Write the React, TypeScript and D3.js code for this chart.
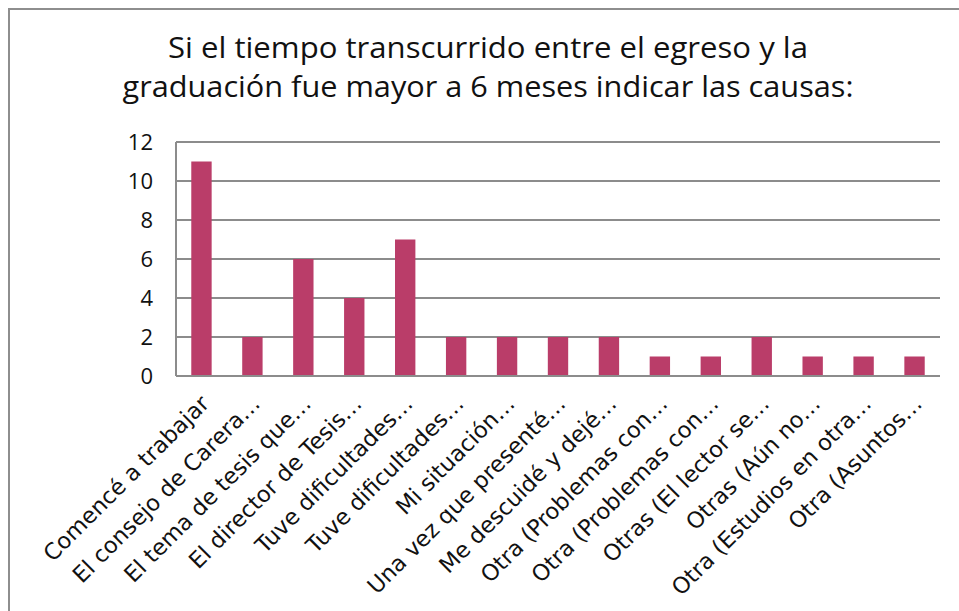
import React from "react";
import * as d3 from "d3";

const titleLines = [
  "Si el tiempo transcurrido entre el egreso y la",
  "graduación fue mayor a 6 meses indicar las causas:",
];
const categories = [
  "Comencé a trabajar",
  "El consejo de Carera…",
  "El tema de tesis que…",
  "El director de Tesis…",
  "Tuve dificultades…",
  "Tuve dificultades… ",
  "Mi situación…",
  "Una vez que presenté…",
  "Me descuidé y dejé…",
  "Otra (Problemas con…",
  "Otra (Problemas con… ",
  "Otras (El lector se…",
  "Otras (Aún no…",
  "Otra (Estudios en otra…",
  "Otra (Asuntos…",
];
const values = [11, 2, 6, 4, 7, 2, 2, 2, 2, 1, 1, 2, 1, 1, 1];
const yTicks = [0, 2, 4, 6, 8, 10, 12];

const W = 959;
const H = 611;
const plot = { left: 176, right: 940, top: 142, bottom: 376 };
const FONT = "'Open Sans', 'DejaVu Sans', sans-serif";
const LABEL_FONT = "'DejaVu Sans', sans-serif";

export default function App() {
  const x = d3
    .scaleBand<string>()
    .domain(categories)
    .range([plot.left, plot.right])
    .paddingInner(0.6)
    .paddingOuter(0.3);
  const y = d3.scaleLinear().domain([0, 12]).range([plot.bottom, plot.top]);

  return (
    <svg
      width={W}
      height={H}
      style={{ position: "fixed", left: 0, top: 0, background: "#fff" }}
    >
      <rect x={0} y={0} width={W} height={H} fill="#fff" />
      <rect
        x={9}
        y={9}
        width={W + 20}
        height={H + 20}
        fill="#fff"
        stroke="#8e8e8e"
        strokeWidth={2}
      />
      {titleLines.map((t, i) => (
        <text
          key={i}
          x={488}
          y={58 + i * 39}
          textAnchor="middle"
          fontFamily={FONT}
          fontSize={30}
          fill="#111"
          textLength={i === 0 ? 640 : 731}
          lengthAdjust="spacingAndGlyphs"
        >
          {t}
        </text>
      ))}
      {yTicks.map((t) => (
        <g key={t}>
          <line
            x1={plot.left}
            x2={plot.right}
            y1={y(t)}
            y2={y(t)}
            stroke="#8c8c8c"
            strokeWidth={2}
          />
          <text
            x={153}
            y={y(t)}
            dy="0.35em"
            textAnchor="end"
            fontFamily={FONT}
            fontSize={22}
            fill="#111"
          >
            {t}
          </text>
        </g>
      ))}
      <line
        x1={plot.left}
        x2={plot.left}
        y1={plot.top}
        y2={plot.bottom}
        stroke="#8c8c8c"
        strokeWidth={2}
      />
      {categories.map((c, i) => (
        <rect
          key={c}
          x={x(c)}
          y={y(values[i])}
          width={x.bandwidth()}
          height={y(0) - y(values[i]) - 1}
          fill="#BA3D69"
        />
      ))}
      {categories.map((c) => {
        const cx = (x(c) as number) + x.bandwidth() / 2 + 9;
        const cy = plot.bottom + 29;
        return (
          <text
            key={"l" + c}
            transform={`translate(${cx},${cy}) rotate(-45)`}
            textAnchor="end"
            fontFamily={LABEL_FONT}
            fontSize={22.5}
            fill="#111"
          >
            {c.trim()}
          </text>
        );
      })}
    </svg>
  );
}
